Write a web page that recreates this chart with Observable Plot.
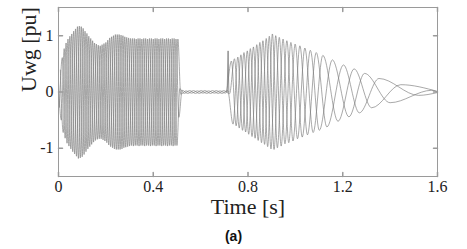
<!DOCTYPE html>
<html><head><meta charset="utf-8">
<script src="https://cdn.jsdelivr.net/npm/d3@7"></script>
<script src="https://cdn.jsdelivr.net/npm/@observablehq/plot@0.6"></script>
<style>
html,body{margin:0;padding:0;background:#fff;}
#caption{width:467px;text-align:center;font:bold 14px "Liberation Sans",Arial,sans-serif;line-height:16px;margin-top:8px;color:#111;}
</style></head><body>
<div id="chart"></div>
<div id="caption"></div>
<script>
// Axis ticks
const xTicks = [0, 0.4, 0.8, 1.2, 1.6];
const xTickLabels = ["0", "0.4", "0.8", "1.2", "1.6"];
const yTicks = [-1, 0, 1];
const yTickLabels = ["-1", "0", "1"];
const xLabel = "Time [s]";
const yLabel = "Uwg [pu]";
const captionText = "(a)";

// Successive peaks/troughs of the three-phase voltage;
// the extrema belong in turn to phases A, C, B.
const phaseNames = ["A", "C", "B"];

const leftTime = [0.000,0.004,0.008,0.012,0.016,0.020,0.024,0.028,0.032,0.036,
0.040,0.044,0.048,0.052,0.056,0.060,0.064,0.068,0.072,0.076,
0.080,0.084,0.088,0.092,0.096,0.100,0.104,0.108,0.112,0.116,
0.120,0.124,0.128,0.132,0.136,0.140,0.144,0.148,0.152,0.156,
0.160,0.164,0.168,0.172,0.176,0.180,0.184,0.188,0.192,0.196,
0.200,0.204,0.208,0.212,0.216,0.220,0.224,0.228,0.232,0.236,
0.240,0.244,0.248,0.252,0.256,0.260,0.264,0.268,0.272,0.276,
0.280,0.284,0.288,0.292,0.296,0.300,0.304,0.308,0.312,0.316,
0.320,0.324,0.328,0.332,0.336,0.340,0.344,0.348,0.352,0.356,
0.360,0.364,0.368,0.372,0.376,0.380,0.384,0.388,0.392,0.396,
0.400,0.404,0.408,0.412,0.416,0.420,0.424,0.428,0.432,0.436,
0.440,0.444,0.448,0.452,0.456,0.460,0.464,0.468,0.472,0.476,
0.480,0.484,0.488,0.492,0.496,0.500,0.504];
const leftValue = [0.15,-0.27,0.39,-0.50,0.61,-0.72,0.77,-0.82,0.87,-0.91,
0.94,-0.96,0.99,-1.01,1.03,-1.06,1.08,-1.10,1.12,-1.14,
1.16,-1.18,1.17,-1.17,1.16,-1.15,1.13,-1.11,1.08,-1.06,
1.04,-1.01,0.99,-0.97,0.95,-0.93,0.91,-0.89,0.87,-0.86,
0.85,-0.84,0.83,-0.83,0.82,-0.83,0.84,-0.85,0.86,-0.87,
0.88,-0.90,0.92,-0.94,0.96,-0.97,0.98,-0.99,1.00,-1.01,
1.02,-1.02,1.02,-1.02,1.02,-1.02,1.01,-1.01,1.00,-0.99,
0.98,-0.98,0.97,-0.97,0.96,-0.96,0.95,-0.95,0.95,-0.96,
0.95,-0.95,0.94,-0.95,0.95,-0.96,0.95,-0.95,0.94,-0.95,
0.95,-0.96,0.95,-0.95,0.94,-0.95,0.95,-0.96,0.95,-0.95,
0.94,-0.95,0.95,-0.96,0.95,-0.95,0.94,-0.95,0.95,-0.96,
0.95,-0.95,0.94,-0.95,0.95,-0.96,0.95,-0.95,0.94,-0.95,
0.95,-0.96,0.95,-0.95,0.94,-0.95,0.94];

const quietTime = [0.508,0.512,0.516,0.522,0.530,0.538,0.546,0.554,0.562,0.570,
0.578,0.586,0.594,0.602,0.610,0.618,0.626,0.634,0.642,0.650,
0.658,0.666,0.674,0.682,0.690,0.698,0.706,0.714,0.722];
const quietValue = [-0.45,0.06,-0.04,0.03,-0.025,0.02,-0.025,0.025,-0.02,0.025,
-0.025,0.02,-0.025,0.025,-0.02,0.025,-0.025,0.02,-0.025,0.025,
-0.02,0.025,-0.025,0.02,-0.025,0.025,-0.02,0.025,-0.03];

const rightTime = [0.730,0.737,0.743,0.750,0.757,0.763,0.770,0.777,0.783,0.790,
0.797,0.803,0.810,0.817,0.823,0.830,0.837,0.843,0.850,0.857,
0.863,0.870,0.877,0.883,0.890,0.897,0.903,
0.910,0.917,0.924,0.932,0.940,0.948,0.956,0.964,0.972,0.981,
0.990,0.999,1.009,1.019,1.029,1.040,1.051,1.063,1.075,1.088,
1.101,1.116,1.133,1.156,
1.180,1.203,1.226,1.248,1.270,1.292,1.322,1.353,1.400,1.445,1.520,1.575];
const rightValue = [0.55,-0.57,0.59,-0.60,0.62,-0.64,0.66,-0.68,0.70,-0.71,
0.73,-0.75,0.77,-0.79,0.80,-0.82,0.84,-0.86,0.88,-0.90,
0.91,-0.93,0.95,-0.97,0.99,-1.01,1.03,
-1.02,1.00,-0.99,0.97,-0.96,0.94,-0.92,0.91,-0.90,0.88,
-0.87,0.85,-0.83,0.82,-0.80,0.78,-0.76,0.74,-0.72,0.70,
-0.68,0.65,-0.62,0.57,
-0.52,0.48,-0.44,0.41,-0.37,0.33,-0.28,0.24,-0.19,0.13,-0.06,0.03];

// Final values of the three phases at the end of the record
const tailTime = 1.6;
const tailValue = [0.01, -0.01, 0.0];

// Switching transient spike near 0.72 s
const spikeTime = [0.712, 0.716, 0.719];
const spikeValue = [0.0, 0.73, 0.0];

// ---- build tables
const allTime = leftTime.concat(quietTime, rightTime);
const allValue = leftValue.concat(quietValue, rightValue);
const wave = allTime.map((t, i) => ({t, v: allValue[i], phase: phaseNames[i % 3]}));
phaseNames.forEach((p, j) => wave.push({t: tailTime, v: tailValue[j], phase: p}));
const spike = spikeTime.map((t, i) => ({t, v: spikeValue[i]}));

const lineColor = "#7a7a7a";
const frameColor = "#9a9a9a";
const tickShape = {draw(ctx, l) { ctx.moveTo(0, 0); ctx.lineTo(0, -l); }};
const xDom = [0, 1.6], yDom = [-1.5, 1.5];

const chart = Plot.plot({
  width: 467, height: 220,
  marginTop: 7, marginBottom: 44, marginLeft: 58, marginRight: 30,
  x: {domain: xDom},
  y: {domain: yDom},
  style: {fontFamily: "'Liberation Serif', 'Times New Roman', serif", color: "#222", background: "#fff"},
  marks: [
    Plot.line(wave, {x: "t", y: "v", z: "phase", stroke: lineColor, strokeWidth: 0.65, curve: "monotone-x"}),
    Plot.line(spike, {x: "t", y: "v", stroke: lineColor, strokeWidth: 0.8}),
    Plot.frame({stroke: frameColor}),
    Plot.vector(xTicks, {x: d => d, y: () => yDom[0], length: 4, rotate: 0, anchor: "start", shape: tickShape, stroke: frameColor}),
    Plot.vector(xTicks, {x: d => d, y: () => yDom[1], length: 4, rotate: 180, anchor: "start", shape: tickShape, stroke: frameColor}),
    Plot.vector(yTicks, {y: d => d, x: () => xDom[0], length: 4, rotate: 90, anchor: "start", shape: tickShape, stroke: frameColor}),
    Plot.vector(yTicks, {y: d => d, x: () => xDom[1], length: 4, rotate: -90, anchor: "start", shape: tickShape, stroke: frameColor}),
    Plot.axisX(xTicks, {tickSize: 0, tickPadding: 4, fontSize: 16, label: null, tickFormat: d => xTickLabels[xTicks.indexOf(d)]}),
    Plot.axisY(yTicks, {tickSize: 0, tickPadding: 5, fontSize: 16, label: null, tickFormat: d => yTickLabels[yTicks.indexOf(d)]}),
    Plot.text([xLabel], {text: d => d, frameAnchor: "bottom", dy: 37.5, fontSize: 22, fill: "#222"}),
    Plot.text([yLabel], {text: d => d, frameAnchor: "left", dx: -30, rotate: -90, fontSize: 22, fill: "#222"})
  ]
});
document.getElementById("chart").appendChild(chart);
document.getElementById("caption").textContent = captionText;
</script></body></html>
